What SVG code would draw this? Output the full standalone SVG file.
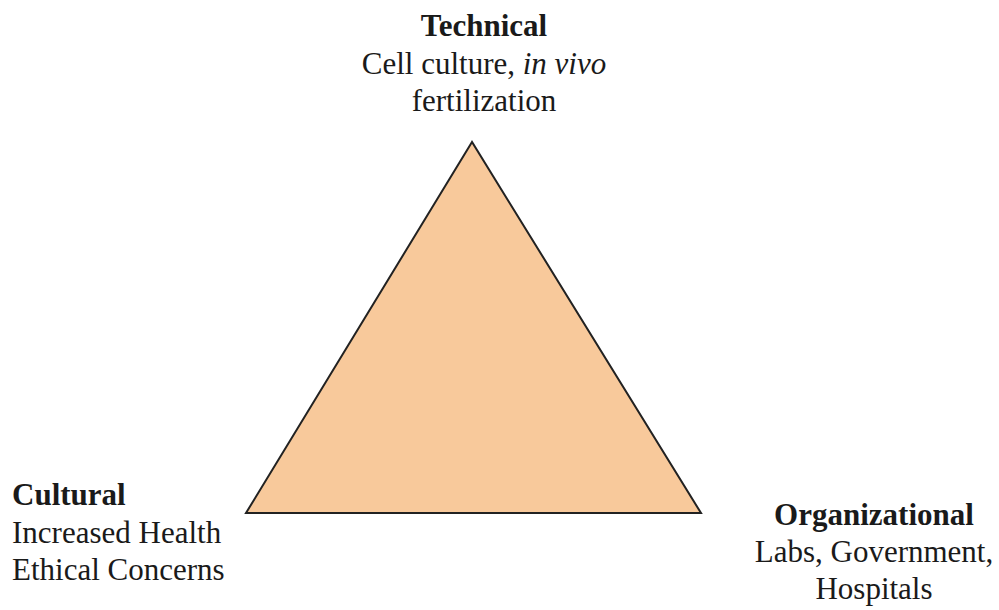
<svg xmlns="http://www.w3.org/2000/svg" width="999" height="610" viewBox="0 0 999 610">
<style>
text{font-family:"Liberation Serif","Times New Roman",serif;font-size:31px;fill:#1a1a1a}
.b{font-weight:bold}
.c{text-anchor:middle}
</style>
<rect width="999" height="610" fill="#ffffff"/>
<g id="triangle">
<polygon points="472,142 246,513 701,513" fill="#f8c99b" stroke="#222222" stroke-width="2" stroke-linejoin="miter"/>
</g>
<g id="technical">
<text class="b c" x="484" y="36">Technical</text>
<text class="c" x="484" y="74">Cell culture, <tspan font-style="italic">in vivo</tspan></text>
<text class="c" x="484" y="111">fertilization</text>
</g>
<g id="cultural">
<text class="b" x="12" y="505">Cultural</text>
<text x="12" y="543">Increased Health</text>
<text x="12" y="580">Ethical Concerns</text>
</g>
<g id="organizational">
<text class="b c" x="874" y="525">Organizational</text>
<text class="c" x="874" y="562">Labs, Government,</text>
<text class="c" x="874" y="599">Hospitals</text>
</g>
<g id="connectors"></g>
</svg>
